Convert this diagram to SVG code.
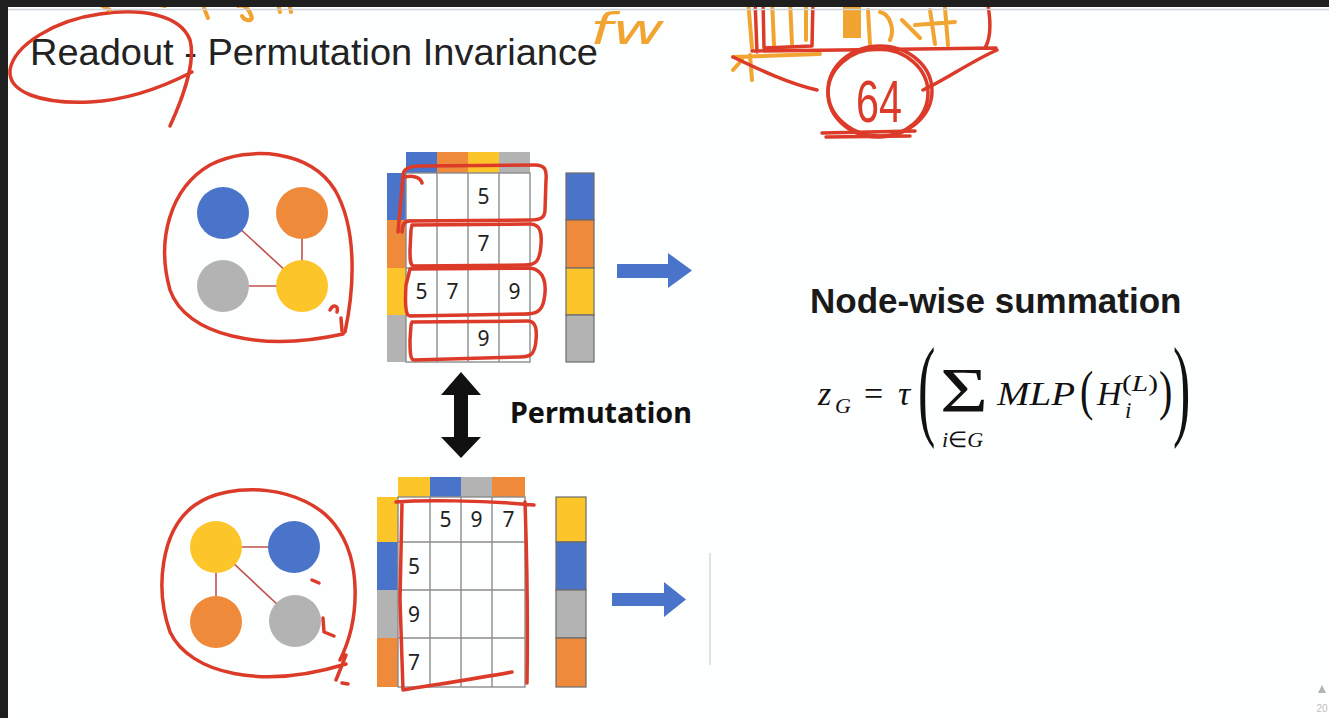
<svg xmlns="http://www.w3.org/2000/svg" width="1329" height="718" viewBox="0 0 1329 718">
<defs>
<style>
.red{fill:none;stroke:#dc3b2a;stroke-width:3.5;stroke-linecap:round;stroke-linejoin:round}
.org{fill:none;stroke:#f2a431;stroke-width:4;stroke-linecap:round;stroke-linejoin:round}
.edge{stroke:#c0504d;stroke-width:1.6}
.grid{fill:none;stroke:#8c8c8c;stroke-width:1.4}
.vec{stroke:#6b6b6b;stroke-width:1.2}
.num{font-family:"Noto Sans","DejaVu Sans",sans-serif;font-size:21px;fill:#222;text-anchor:middle}
.m{font-family:"Liberation Serif",serif;fill:#111}
.mi{font-family:"Liberation Serif",serif;font-style:italic;fill:#111}
.blue{fill:#4a74c9}.orange{fill:#ee8a3a}.yellow{fill:#fcc52a}.gray{fill:#b3b3b3}
</style>
</defs>
<rect x="0" y="0" width="1329" height="718" fill="#fdfefe"/>

<!-- title -->
<g id="title">
<text x="30" y="65" font-family="Liberation Sans,Arial,sans-serif" font-size="37" fill="#222" textLength="568" lengthAdjust="spacingAndGlyphs">Readout - Permutation Invariance</text>
</g>

<!-- top graph -->
<g id="graph-top">
<line class="edge" x1="223" y1="213" x2="302" y2="286"/>
<line class="edge" x1="302" y1="213" x2="302" y2="286"/>
<line class="edge" x1="223" y1="286" x2="302" y2="286"/>
<circle id="top-blue" class="blue" cx="223" cy="213" r="26"/>
<circle id="top-orange" class="orange" cx="302" cy="213" r="26"/>
<circle id="top-gray" class="gray" cx="223" cy="286" r="26"/>
<circle id="top-yellow" class="yellow" cx="302" cy="286" r="26"/>
</g>

<!-- top matrix -->
<g id="matrix-top">
<rect class="blue" x="406" y="152" width="31" height="21"/>
<rect class="orange" x="437" y="152" width="31" height="21"/>
<rect class="yellow" x="468" y="152" width="31" height="21"/>
<rect class="gray" x="499" y="152" width="31" height="21"/>
<rect class="blue" x="387" y="173" width="19" height="47"/>
<rect class="orange" x="387" y="220" width="19" height="48"/>
<rect class="yellow" x="387" y="268" width="19" height="47"/>
<rect class="gray" x="387" y="315" width="19" height="47"/>
<rect x="406" y="173" width="124" height="189" fill="#fff" class="grid"/>
<path class="grid" d="M437,173V362M468,173V362M499,173V362M406,220H530M406,268H530M406,315H530"/>
<text class="num" x="483.5" y="204">5</text>
<text class="num" x="483.5" y="251">7</text>
<text class="num" x="421.5" y="299">5</text>
<text class="num" x="452.5" y="299">7</text>
<text class="num" x="514.5" y="299">9</text>
<text class="num" x="483.5" y="346">9</text>
</g>

<g id="vector-top">
<rect class="blue vec" x="566" y="173" width="28" height="47"/>
<rect class="orange vec" x="566" y="220" width="28" height="48"/>
<rect class="yellow vec" x="566" y="268" width="28" height="47"/>
<rect class="gray vec" x="566" y="315" width="28" height="47"/>
</g>

<!-- bottom graph -->
<g id="graph-bottom">
<line class="edge" x1="216" y1="547" x2="294" y2="547"/>
<line class="edge" x1="216" y1="547" x2="216" y2="622"/>
<line class="edge" x1="216" y1="547" x2="295" y2="621"/>
<circle id="bot-yellow" class="yellow" cx="216" cy="547" r="26"/>
<circle id="bot-blue" class="blue" cx="294" cy="547" r="26"/>
<circle id="bot-orange" class="orange" cx="216" cy="622" r="26"/>
<circle id="bot-gray" class="gray" cx="295" cy="621" r="26"/>
</g>

<!-- bottom matrix -->
<g id="matrix-bottom">
<rect class="yellow" x="398" y="477" width="32" height="20"/>
<rect class="blue" x="430" y="477" width="31" height="20"/>
<rect class="gray" x="461" y="477" width="31" height="20"/>
<rect class="orange" x="492" y="477" width="33" height="20"/>
<rect class="yellow" x="377" y="497" width="21" height="45"/>
<rect class="blue" x="377" y="542" width="21" height="48"/>
<rect class="gray" x="377" y="590" width="21" height="48"/>
<rect class="orange" x="377" y="638" width="21" height="49"/>
<rect x="398" y="497" width="127" height="190" fill="#fff" class="grid"/>
<path class="grid" d="M430,497V687M461,497V687M492,497V687M398,542H525M398,590H525M398,638H525"/>
<text class="num" x="445.5" y="527">5</text>
<text class="num" x="476.5" y="527">9</text>
<text class="num" x="508.5" y="527">7</text>
<text class="num" x="414" y="574">5</text>
<text class="num" x="414" y="622">9</text>
<text class="num" x="414" y="670">7</text>
</g>

<g id="vector-bottom">
<rect class="yellow vec" x="556" y="497" width="30" height="45"/>
<rect class="blue vec" x="556" y="542" width="30" height="48"/>
<rect class="gray vec" x="556" y="590" width="30" height="48"/>
<rect class="orange vec" x="556" y="638" width="30" height="49"/>
</g>

<!-- connectors -->
<g id="connectors">
<polygon fill="#4a74c9" points="617,264 668,264 668,253 692,270.5 668,288 668,278 617,278"/>
<polygon fill="#4a74c9" points="612,593 664,593 664,582 686,599.5 664,617 664,606 612,606"/>
<polygon fill="#111" points="461,372 481,395 468,395 468,437 481,437 461,458 441,437 454,437 454,395 441,395"/>
</g>
<line x1="710" y1="553" x2="710" y2="665" stroke="#e2e2e2" stroke-width="2"/>

<g id="permutation-label">
<text x="510" y="423" font-family="Noto Sans,sans-serif" font-weight="bold" font-size="28" fill="#111" textLength="182" lengthAdjust="spacingAndGlyphs">Permutation</text>
</g>

<!-- formula -->
<g id="formula">
<text x="810" y="313" font-family="Liberation Sans,Arial,sans-serif" font-weight="bold" font-size="35" fill="#1a1a1a">Node-wise summation</text>
<text class="mi" x="818" y="405" font-size="34">z</text>
<text class="mi" x="835" y="413" font-size="22">G</text>
<text class="m" x="864" y="405" font-size="34">=</text>
<text class="mi" x="898" y="405" font-size="34">τ</text>
<text class="m" font-size="40" transform="translate(918,0) scale(1.3,2.79)" x="0" y="152.4">(</text>
<text class="m" x="940" y="412" font-size="64" textLength="48" lengthAdjust="spacingAndGlyphs">Σ</text>
<text class="mi" x="942" y="447" font-size="22">i<tspan font-style="normal">∈</tspan>G</text>
<text class="mi" x="997" y="405" font-size="34" textLength="78" lengthAdjust="spacingAndGlyphs">MLP</text>
<text class="m" font-size="40" transform="translate(1080,0) scale(1,1.35)" x="0" y="302.6">(</text>
<text class="mi" x="1097" y="405" font-size="34">H</text>
<text class="mi" x="1125" y="418" font-size="23">i</text>
<text class="m" x="1122" y="391" font-size="24" textLength="36" lengthAdjust="spacingAndGlyphs">(<tspan font-style="italic">L</tspan>)</text>
<text class="m" font-size="40" transform="translate(1159,0) scale(1,1.35)" x="0" y="302.6">)</text>
<text class="m" font-size="40" transform="translate(1173,0) scale(1.3,2.79)" x="0" y="152.4">)</text>
</g>

<!-- annotations -->
<g id="annotations">
<path class="red" d="M170,126 C182,100 196,62 190,40 C180,14 140,8 100,14 C55,20 14,45 10,70 C8,92 40,104 90,102 C130,100 165,86 192,72"/>
<path class="red" d="M345,332 C354,290 358,230 335,190 C310,150 250,145 210,165 C170,188 156,240 170,290 C186,336 262,352 343,334"/>
<path class="red" d="M330,310 C333,304 339,305 337,312 M341,318 L342,331"/>
<path class="red" d="M403,176 C403,168 410,166 420,166 L535,165 C545,165 547,170 546,180 L545,210 C545,218 540,220 530,220 L410,221 C404,221 402,226 402,232 M403,178 C410,175 420,176 422,183 M403,176 L398,232"/>
<path class="red" d="M412,225 L530,224 C540,224 542,232 541,245 C540,262 535,265 525,265 L414,266 C410,266 410,260 410,250 L411,230 Z"/>
<path class="red" d="M410,269 L530,268 C545,270 547,285 544,300 C542,312 535,314 525,314 L410,316 C405,316 405,300 406,285 Z"/>
<path class="red" d="M412,322 L528,321 C536,321 537,330 536,340 C535,355 530,357 520,357 L414,360 C410,360 410,350 410,340 L411,325 Z"/>
<path class="red" d="M340,660 C360,620 362,560 335,525 C305,485 230,480 195,505 C160,530 155,590 170,632 C190,674 262,690 346,664 M346,655 L336,680 M342,683 L348,684"/>
<path class="red" d="M312,580 L319,583 M323,618 L324,632 L334,636"/>
<path class="red" d="M396,502 C420,500 480,500 534,505 M402,503 L400,600 L403,690 C440,684 480,678 512,672 M525,502 C527,560 528,620 527,683"/>

<path class="org" d="M95,2 L110,10 M147,2 L165,6 M204,8 L208,18 M238,6 C245,4 250,10 252,18 C250,22 244,20 242,16 M278,4 L280,12 M289,3 L291,12"/>
<text x="590" y="44" font-family="DejaVu Sans,sans-serif" font-style="italic" font-size="42" fill="#f2a431" textLength="74" lengthAdjust="spacingAndGlyphs">fw</text>

<path class="org" d="M748,0 L752,48 M772,0 L774,45 M790,0 L792,44 M806,0 L806,40 M733,57 L820,54 M750,55 L752,80 M742,60 L733,70 M868,10 L870,44 M880,12 C890,14 895,30 890,40 M902,20 L920,38 M930,10 L935,44 M915,25 L955,22 M945,8 L948,45"/>
<rect x="843" y="0" width="18" height="38" fill="#f2a431"/>
<path class="red" d="M755,0 L757,52 M763,0 L764,48 L812,46 L813,0 M752,51 L996,48 M987,0 C991,20 991,38 985,48 M733,57 C760,70 790,84 817,90 M997,50 C970,62 945,80 923,90"/>
<ellipse class="red" cx="880" cy="91" rx="52" ry="45"/>
<ellipse class="red" cx="878" cy="93" rx="50" ry="44" stroke-width="2.5"/>
<path class="red" d="M822,133 L915,131 M826,137 L910,136"/>
<text x="856" y="122" font-family="Liberation Sans,sans-serif" font-size="60" fill="#dc3b2a" textLength="46" lengthAdjust="spacingAndGlyphs">64</text>
</g>

<!-- frame -->
<rect x="0" y="0" width="1329" height="7" fill="#1f1f1f"/>
<rect x="0" y="0" width="8" height="718" fill="#1f1f1f"/>
<line x1="8" y1="9.5" x2="1329" y2="9.5" stroke="#cfd3da" stroke-width="1.5"/>

<g id="slide-number">
<polygon points="1318,693 1322,685 1326,693" fill="#b3b3b3"/>
<text x="1322" y="712" font-family="Liberation Sans,sans-serif" font-size="10" fill="#bdbdbd" text-anchor="middle">20</text>
</g>
</svg>
